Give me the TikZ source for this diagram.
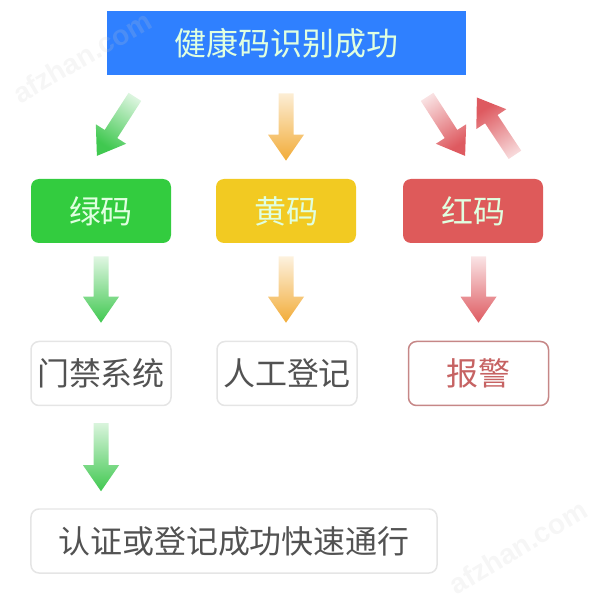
\documentclass[tikz,border=0pt]{standalone}
\usepackage{fontspec}
\usepackage{xcolor}
\usetikzlibrary{calc}
\setmainfont{Noto Sans CJK SC}
\setsansfont{Liberation Sans}

\definecolor{boxBlue}{HTML}{2F80FF}
\definecolor{boxGreen}{HTML}{33CC3F}
\definecolor{boxYellow}{HTML}{F2CA22}
\definecolor{boxRed}{HTML}{DE5A5A}
\definecolor{arrowGreen}{HTML}{40C850}
\definecolor{arrowYellow}{HTML}{F2AC38}
\definecolor{arrowRed}{HTML}{DE5A60}

% fat arrow: #1 and #2 are the gaps left at both ends
\tikzset{fatArrow/.style 2 args = {to path =
{
	let	\p1 = ($(\tikztostart)!#1!(\tikztotarget)$),
		\p2 = ($(\tikztotarget)!#2!(\tikztostart)$),
		\p3 = ($(\p2)!0.52cm!(\p1)$)
	in	($(\p1)!0.15cm!90:(\p2)$) -- ($(\p3)!0.15cm!90:(\p2)$) -- ($(\p3)!0.36cm!90:(\p2)$)
		-- (\p2)
		-- ($(\p3)!0.36cm!-90:(\p2)$) -- ($(\p3)!0.15cm!-90:(\p2)$) -- ($(\p1)!0.15cm!-90:(\p2)$) -- cycle
}}}

\begin{document}
\begin{tikzpicture}
\tikzstyle{myBox} =
[
	shape			= rectangle,		% shape
	rounded corners	= 0.16cm,			% roundness of the corners
	minimum height	= 1.28cm,			% | minimum size
	minimum width	= 2.8cm,			% |
	inner sep		= 0cm,				% text decides nothing here
	font			= \fontsize{18.2pt}{20pt}\selectfont,	% used font
	text			= white!88!green	% colour of the text
]
\tikzstyle{myPlain} =
[
	myBox,
	draw			= black!10,			% colour of the border
	line width		= 0.03cm,			% thickness of the border
	text			= black!68			% colour of the text
]
\tikzstyle{myMark} =
[
	text			= gray!40,			% colour of the text
	opacity			= 0.18,				% faint
	font			= \sffamily\bfseries\fontsize{16pt}{18pt}\selectfont	% used font
]
\tikzstyle{fatGreen} = [top color = white, bottom color = arrowGreen]
\tikzstyle{fatYellow} = [top color = white, bottom color = arrowYellow]
\tikzstyle{fatRed} = [top color = white, bottom color = arrowRed]
\useasboundingbox (0,0) rectangle (12,12);
\node (success) [myBox, rounded corners = 0cm, minimum width = 7.18cm, fill = boxBlue] at (5.73,11.14) {健康码识别成功};
\node (green) [myBox, fill = boxGreen] at (2.02,7.78) {绿码};
\node (yellow) [myBox, fill = boxYellow] at (5.72,7.78) {黄码};
\node (red) [myBox, fill = boxRed] at (9.46,7.78) {红码};
\node (door) [myPlain] at (2.02,4.53) {门禁系统};
\node (manual) [myPlain] at (5.74,4.53) {人工登记};
\node (alarm) [myPlain, draw = boxRed!60!gray!80, text = boxRed!75!gray] at (9.57,4.53) {报警};
\node (pass) [myPlain, minimum width = 8.12cm] at (4.68,1.18) {认证或登记成功快速通行};
% tip and tail ends
\coordinate (greenOut) at (2.98,10.5);
\coordinate (greenIn) at (1.64,8.42);
\coordinate (redOut) at (8.26,10.5);
\coordinate (redIn) at (9.6,8.42);
\coordinate (backOut) at (10.62,8.42);
\coordinate (backIn) at (9.24,10.5);
\shade [fatGreen, shading angle = -33, fatArrow = {0.52cm}{0.55cm}] (greenOut) to (greenIn);
\shade [fatYellow, fatArrow = {0.36cm}{0.36cm}] (success.south -| yellow.north) to (yellow.north);
\shade [fatRed, shading angle = 33, fatArrow = {0.52cm}{0.55cm}] (redOut) to (redIn);
\shade [fatRed, shading angle = -147, fatArrow = {0.58cm}{0.54cm}] (backOut) to (backIn);
\shade [fatGreen, fatArrow = {0.26cm}{0.36cm}] (green.south) to (door.north);
\shade [fatYellow, fatArrow = {0.26cm}{0.36cm}] (yellow.south) to (yellow.south |- manual.north);
\shade [fatRed, fatArrow = {0.26cm}{0.36cm}] (red.south -| alarm.north) to (alarm.north);
\shade [fatGreen, fatArrow = {0.34cm}{0.34cm}] (door.south) to (door.south |- pass.north);
% faint site marks
\node (markTop) [myMark, rotate = 30] at (1.64,10.86) {afzhan.com};
\node (markBottom) [myMark, rotate = 31] at (10.36,1.06) {afzhan.com};
\end{tikzpicture}
\end{document}
